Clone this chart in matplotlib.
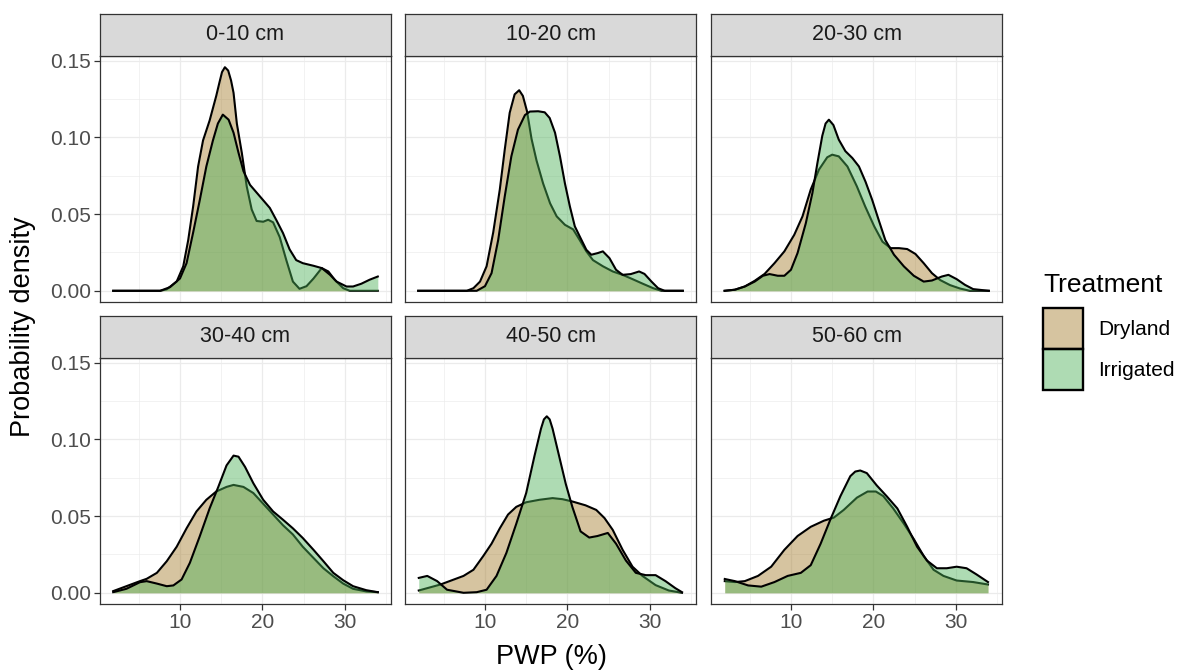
import matplotlib
matplotlib.use("Agg")
import matplotlib.pyplot as plt
from matplotlib.colors import to_rgba
from matplotlib.patches import Patch

plt.rcParams['font.family'] = ['Liberation Sans', 'DejaVu Sans']

depths = ['0-10 cm', '10-20 cm', '20-30 cm', '30-40 cm', '40-50 cm', '50-60 cm']
treatments = ['Dryland', 'Irrigated']
fill_colors = ['#A47C2C', '#4DB158']

# density curves (PWP %, density)
dry_0_10_x = [1.9, 7.6, 8.4, 9.6, 10.4, 11.0, 11.6, 12.2, 12.8, 13.6, 14.4, 14.8, 15.1, 15.45, 15.85, 16.2, 16.5,
              16.9, 17.5, 18.1, 18.7, 19.3, 20.1, 20.7, 21.3, 22.1, 22.9, 23.7, 24.5, 25.35, 26.2, 27.2, 28.0,
              28.8, 29.8, 30.6, 34.0]
dry_0_10_y = [0, 0, 0.001, 0.006, 0.016, 0.033, 0.055, 0.081, 0.098, 0.111, 0.127, 0.136, 0.1425, 0.1457,
              0.1435, 0.137, 0.129, 0.109, 0.090, 0.068, 0.053, 0.0455, 0.045, 0.0463, 0.0446, 0.035, 0.020,
              0.006, 0.0013, 0.003, 0.008, 0.0148, 0.0126, 0.007, 0.0017, 0, 0]
irr_0_10_x = [1.9, 7.6, 8.8, 10.0, 10.8, 11.6, 12.4, 13.2, 14.0, 14.6, 15.2, 15.9, 16.5, 17.1, 17.7, 18.5,
              19.3, 20.1, 20.9, 21.7, 22.5, 23.3, 24.1, 24.9, 26.2, 27.2, 28.2, 29.0, 30.2, 31.0, 32.0, 33.0, 34.0]
irr_0_10_y = [0, 0, 0.0024, 0.008, 0.018, 0.038, 0.059, 0.081, 0.098, 0.109, 0.1148, 0.1115, 0.103, 0.090,
              0.078, 0.069, 0.064, 0.059, 0.054, 0.046, 0.0376, 0.027, 0.020, 0.018, 0.0163, 0.0148, 0.0104,
              0.006, 0.0028, 0.0028, 0.0046, 0.0072, 0.0093]

dry_10_20_x = [1.9, 7.8, 8.6, 9.4, 10.2, 11.0, 11.8, 12.4, 13.0, 13.6, 14.15, 14.6, 15.1, 15.65, 16.25, 17.05,
               17.9, 18.7, 19.7, 20.7, 21.5, 22.3, 23.1, 24.3, 25.5, 26.7, 27.9, 29.15, 30.4, 31.4, 34.0]
dry_10_20_y = [0, 0, 0.0017, 0.006, 0.016, 0.038, 0.066, 0.092, 0.116, 0.128, 0.1307, 0.127, 0.117, 0.099,
               0.085, 0.070, 0.057, 0.0485, 0.043, 0.040, 0.033, 0.0257, 0.020, 0.016, 0.0126, 0.0104, 0.0076,
               0.0046, 0.0017, 0, 0]
irr_10_20_x = [1.9, 9.0, 10.0, 10.8, 11.6, 12.4, 13.2, 14.0, 14.85, 15.45, 16.45, 17.25, 17.85, 18.5, 19.1,
               19.7, 20.3, 20.9, 21.5, 22.3, 22.9, 23.7, 24.3, 25.1, 25.9, 26.7, 27.7, 28.7, 29.35, 30.2, 31.0,
               31.8, 34.0]
irr_10_20_y = [0, 0, 0.003, 0.0115, 0.033, 0.0615, 0.0876, 0.105, 0.1145, 0.1168, 0.117, 0.1163, 0.1126,
               0.103, 0.0876, 0.070, 0.055, 0.042, 0.0354, 0.0267, 0.0235, 0.0246, 0.0257, 0.0213, 0.0137,
               0.0104, 0.0109, 0.0126, 0.011, 0.006, 0.0017, 0, 0]

dry_20_30_x = [1.95, 3.2, 4.4, 5.6, 6.8, 8.0, 9.2, 10.4, 11.4, 12.4, 13.4, 14.4, 15.0, 15.8, 16.85, 18.0,
               19.0, 20.1, 21.1, 22.1, 23.1, 24.1, 25.1, 26.1, 27.1, 28.1, 29.3, 30.5, 31.7, 34.0]
dry_20_30_y = [0, 0.0007, 0.0028, 0.0065, 0.011, 0.018, 0.0257, 0.0365, 0.0485, 0.066, 0.079, 0.087,
               0.0887, 0.0876, 0.081, 0.068, 0.055, 0.042, 0.032, 0.0278, 0.0278, 0.0272, 0.024, 0.018,
               0.0115, 0.007, 0.0037, 0.0015, 0, 0]
irr_20_30_x = [1.95, 3.2, 4.4, 5.6, 6.6, 7.4, 8.4, 9.2, 10.0, 10.8, 11.8, 12.6, 13.2, 13.8, 14.2, 14.6,
               15.15, 15.8, 16.6, 17.45, 18.25, 19.05, 19.85, 20.65, 21.45, 22.5, 23.7, 24.9, 26.1, 27.1,
               28.3, 29.1, 30.1, 31.1, 32.1, 34.0]
irr_20_30_y = [0, 0.0007, 0.0028, 0.006, 0.0098, 0.0109, 0.0098, 0.0098, 0.0137, 0.0246, 0.044, 0.0637,
               0.083, 0.101, 0.109, 0.1115, 0.108, 0.0985, 0.091, 0.0865, 0.081, 0.071, 0.0593, 0.046, 0.033,
               0.0235, 0.0159, 0.0098, 0.006, 0.0067, 0.0093, 0.0104, 0.0076, 0.0039, 0.0011, 0]

dry_30_40_x = [1.9, 3.5, 5.15, 5.96, 7.2, 8.4, 9.6, 10.8, 12.0, 13.2, 14.4, 15.65, 16.5, 17.7, 18.9, 20.1,
               21.3, 22.5, 23.7, 24.9, 26.2, 27.4, 28.6, 29.8, 31.0, 32.6, 34.0]
dry_30_40_y = [0.0011, 0.0043, 0.0076, 0.0091, 0.013, 0.0206, 0.030, 0.042, 0.053, 0.0606, 0.066, 0.069,
               0.0703, 0.069, 0.065, 0.058, 0.051, 0.044, 0.038, 0.030, 0.0227, 0.016, 0.0108, 0.006, 0.0026,
               0.0009, 0.0004]
irr_30_40_x = [1.9, 3.5, 5.15, 5.96, 7.2, 8.4, 9.2, 10.2, 11.2, 12.4, 13.6, 14.65, 15.65, 16.5, 17.1, 17.9,
               18.9, 20.1, 21.3, 22.5, 23.7, 24.9, 26.2, 27.4, 28.6, 29.8, 31.0, 32.6, 34.0]
irr_30_40_y = [0.0004, 0.0026, 0.0069, 0.0076, 0.006, 0.0043, 0.0048, 0.0087, 0.0195, 0.0368, 0.055, 0.069,
               0.083, 0.0894, 0.0887, 0.082, 0.0714, 0.0606, 0.053, 0.0476, 0.042, 0.0357, 0.028, 0.0206,
               0.013, 0.0082, 0.0043, 0.0017, 0.0004]

dry_40_50_x = [1.97, 4.6, 7.4, 8.6, 9.8, 10.8, 11.8, 12.8, 13.8, 15.0, 16.6, 18.2, 19.4, 20.6, 22.2, 23.5,
               24.5, 25.5, 26.7, 27.9, 29.1, 30.7, 32.3, 33.9]
dry_40_50_y = [0.0015, 0.0054, 0.011, 0.015, 0.024, 0.032, 0.042, 0.051, 0.056, 0.059, 0.0606, 0.0617, 0.061,
               0.0595, 0.057, 0.054, 0.0487, 0.041, 0.028, 0.017, 0.011, 0.005, 0.0015, 0]
irr_40_50_x = [1.97, 3.0, 4.2, 5.4, 7.4, 9.0, 10.2, 11.4, 12.6, 13.8, 15.0, 16.0, 16.8, 17.15, 17.5, 17.85,
               18.2, 19.0, 19.8, 20.6, 21.6, 22.65, 23.65, 24.9, 25.9, 27.1, 28.3, 29.5, 30.7, 31.9, 33.1, 33.9]
irr_40_50_y = [0.0097, 0.011, 0.0076, 0.002, 0, 0.0004, 0.002, 0.011, 0.026, 0.045, 0.065, 0.089, 0.107,
               0.113, 0.115, 0.113, 0.107, 0.089, 0.071, 0.056, 0.040, 0.036, 0.037, 0.039, 0.032, 0.021,
               0.013, 0.0115, 0.0115, 0.0076, 0.003, 0.0004]

dry_50_60_x = [1.97, 3.2, 4.4, 6.0, 7.6, 9.2, 10.8, 12.4, 14.0, 15.2, 16.4, 18.0, 19.3, 20.3, 21.2, 22.4,
               23.7, 24.9, 26.1, 27.3, 28.5, 30.1, 32.1, 33.9]
dry_50_60_y = [0.0076, 0.007, 0.0076, 0.011, 0.017, 0.028, 0.037, 0.043, 0.047, 0.049, 0.054, 0.062, 0.066,
               0.066, 0.063, 0.055, 0.045, 0.035, 0.024, 0.015, 0.011, 0.008, 0.007, 0.0054]
irr_50_60_x = [1.97, 3.2, 4.8, 6.4, 8.0, 9.6, 11.2, 12.4, 13.6, 14.8, 16.0, 17.2, 17.8, 18.4, 19.2, 20.4,
               21.6, 22.9, 24.1, 25.3, 26.5, 27.7, 28.9, 30.1, 31.3, 32.5, 33.9]
irr_50_60_y = [0.009, 0.0076, 0.0048, 0.004, 0.007, 0.011, 0.013, 0.018, 0.032, 0.048, 0.063, 0.076, 0.079,
               0.0797, 0.078, 0.070, 0.063, 0.055, 0.043, 0.030, 0.021, 0.016, 0.016, 0.017, 0.016, 0.012, 0.007]

curves = {
    '0-10 cm': [(dry_0_10_x, dry_0_10_y), (irr_0_10_x, irr_0_10_y)],
    '10-20 cm': [(dry_10_20_x, dry_10_20_y), (irr_10_20_x, irr_10_20_y)],
    '20-30 cm': [(dry_20_30_x, dry_20_30_y), (irr_20_30_x, irr_20_30_y)],
    '30-40 cm': [(dry_30_40_x, dry_30_40_y), (irr_30_40_x, irr_30_40_y)],
    '40-50 cm': [(dry_40_50_x, dry_40_50_y), (irr_40_50_x, irr_40_50_y)],
    '50-60 cm': [(dry_50_60_x, dry_50_60_y), (irr_50_60_x, irr_50_60_y)],
}

W, H = 1179, 671
fig = plt.figure(figsize=(W / 100, H / 100), dpi=100)

col_px = [(100, 391), (405, 696), (711, 1002)]
row_px = [(14, 56, 302), (316, 358, 604)]   # strip top, panel top, panel bottom
ALPHA = 0.45
GRID = '#EBEBEB'
DARK = '#333333'


def fx(p):
    return p / W


def fy(p):
    return 1 - p / H


for i, depth in enumerate(depths):
    r, c = divmod(i, 3)
    x0, x1 = col_px[c]
    st, pt, pb = row_px[r]
    ax = fig.add_axes([fx(x0), fy(pb), fx(x1 - x0), (pb - pt) / H])
    ax.set_xlim(0.3, 35.6)
    ax.set_ylim(-0.0073, 0.153)
    ax.set_xticks([10, 20, 30])
    ax.set_xticks([5, 15, 25, 35], minor=True)
    ax.set_yticks([0, 0.05, 0.10, 0.15])
    ax.set_yticks([0.025, 0.075, 0.125], minor=True)
    ax.grid(which='major', color=GRID, lw=0.9)
    ax.grid(which='minor', color=GRID, lw=0.45)
    ax.set_axisbelow(True)
    for s in ax.spines.values():
        s.set_color(DARK)
        s.set_linewidth(0.9)
    ax.tick_params(which='minor', length=0)
    ax.tick_params(which='major', length=4, width=0.9, color=DARK, labelcolor='#4D4D4D', labelsize=15,
                   pad=2.5)
    if c == 0:
        ax.set_yticklabels(['0.00', '0.05', '0.10', '0.15'])
    else:
        ax.tick_params(axis='y', length=0, labelleft=False)
    if r == 1:
        ax.set_xticklabels(['10', '20', '30'])
    else:
        ax.tick_params(axis='x', length=0, labelbottom=False)

    z = 2
    for (xs, ys), col in zip(curves[depth], fill_colors):
        ax.fill_between(xs, 0, ys, color=col, alpha=ALPHA, lw=0, zorder=z)
        ax.plot(xs, ys, color='black', lw=1.5, zorder=z + 1, solid_joinstyle='round')
        z += 2

    sax = fig.add_axes([fx(x0), fy(pt), fx(x1 - x0), (pt - st) / H])
    sax.set_facecolor('#D9D9D9')
    sax.set_xticks([])
    sax.set_yticks([])
    for s in sax.spines.values():
        s.set_color(DARK)
        s.set_linewidth(0.9)
    sax.text(0.5, 0.5, depth, ha='center', va='center', fontsize=15.5, color='#1A1A1A',
             transform=sax.transAxes)

fig.text(fx(551), fy(657), 'PWP (%)', ha='center', va='center', fontsize=19.5)
fig.text(fx(23), fy(327), 'Probability density', ha='center', va='center', rotation=90, fontsize=19.5)

# legend
fig.text(fx(1043), fy(292), 'Treatment', ha='left', va='baseline', fontsize=19)
handles = [Patch(facecolor=to_rgba(col, ALPHA), edgecolor='black', lw=1.7) for col in fill_colors]
fig.legend(handles, treatments, loc='upper left', bbox_to_anchor=(fx(1043), fy(308)), frameon=False,
           fontsize=15, handlelength=1.92, handleheight=2.65, labelspacing=0, handletextpad=0.72,
           borderpad=0, borderaxespad=0)

fig.savefig('out.png', dpi=100)
